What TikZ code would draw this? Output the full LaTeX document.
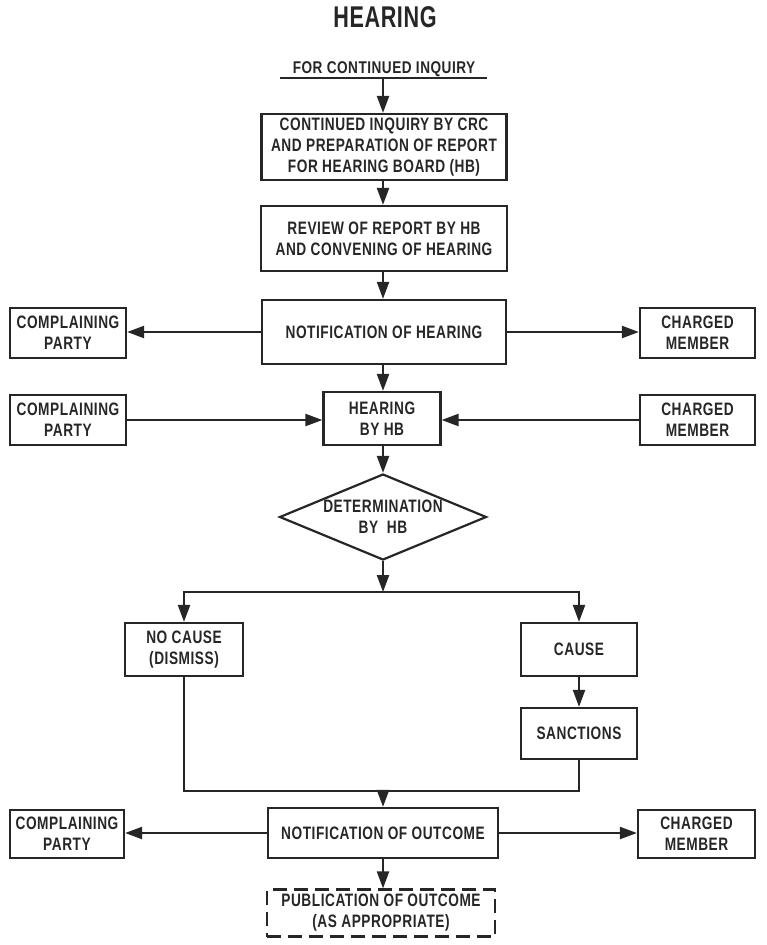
\documentclass[tikz,border=0pt]{standalone}
\usepackage{fontspec}
\setmainfont[FakeStretch=0.76,LetterSpace=3]{Liberation Sans}
\newfontfamily\titlefont[FakeStretch=0.72,LetterSpace=2]{Liberation Sans}
\newfontfamily\fcifont[FakeStretch=0.8,LetterSpace=3]{Liberation Sans}
\usetikzlibrary{arrows.meta,shapes.geometric}
\begin{document}
\begin{tikzpicture}[x=1pt,y=-1pt,
  line width=2.2pt, color={black!85},
  txt/.style={font=\bfseries\fontsize{18}{21}\selectfont},
  box/.style={draw, rectangle, align=center, inner sep=0pt, txt},
  arr/.style={-{Triangle[length=17pt,width=12pt]}},
  dashbox/.style={box, dash pattern=on 14pt off 7pt}
]
\useasboundingbox (0,0) rectangle (766,945);

\node[font=\titlefont\bfseries\fontsize{30}{30}\selectfont] (title) at (385,17) {HEARING};
\node[font=\fcifont\bfseries\fontsize{17}{18}\selectfont] (fci) at (384,69) {FOR CONTINUED INQUIRY};
\coordinate (ul) at (383,78);
\draw (280,78) -- (487,78);

\node[box, minimum width=245pt, minimum height=66pt] (b1) at (384,147)
  {CONTINUED INQUIRY BY CRC\\AND PREPARATION OF REPORT\\FOR HEARING BOARD (HB)};
\node[box, minimum width=246pt, minimum height=65pt] (b2) at (384,238.5)
  {REVIEW OF REPORT BY HB\\AND CONVENING OF HEARING};
\node[box, minimum width=244pt, minimum height=64pt] (b3) at (384,332)
  {NOTIFICATION OF HEARING};
\node[box, minimum width=116pt, minimum height=50pt] (cpA) at (68,333)
  {COMPLAINING\\PARTY};
\node[box, minimum width=115pt, minimum height=50pt] (cmA) at (697.5,333)
  {CHARGED\\MEMBER};

\node[box, minimum width=117pt, minimum height=53pt] (hb) at (382,418.5)
  {HEARING\\BY HB};
\node[box, minimum width=116pt, minimum height=50pt] (cpB) at (68,420)
  {COMPLAINING\\PARTY};
\node[box, minimum width=115pt, minimum height=50pt] (cmB) at (697.5,420)
  {CHARGED\\MEMBER};

\node[draw, diamond, inner sep=0pt, minimum width=207pt, minimum height=86pt] (det) at (383,517) {};
\node[align=center, txt] (detl) at (383,517) {DETERMINATION\\BY\ \ HB};

\coordinate (j1) at (383,592);
\node[box, minimum width=118pt, minimum height=53pt] (nc) at (184,649.5)
  {NO CAUSE\\(DISMISS)};
\node[box, minimum width=116pt, minimum height=53pt] (cause) at (579,649.5)
  {CAUSE};
\node[box, minimum width=116pt, minimum height=51pt] (sanc) at (579,733.5)
  {SANCTIONS};
\coordinate (j2) at (383,791);

\node[box, minimum width=230pt, minimum height=50pt] (no) at (383,833)
  {NOTIFICATION OF OUTCOME};
\node[box, minimum width=114pt, minimum height=48pt] (cpC) at (67,834)
  {COMPLAINING\\PARTY};
\node[box, minimum width=117pt, minimum height=48pt] (cmC) at (696.5,834)
  {CHARGED\\MEMBER};
\node[dashbox, minimum width=228pt, minimum height=47pt] (pub) at (381,913)
  {PUBLICATION OF OUTCOME\\(AS APPROPRIATE)};

% connectors
\draw[arr] (ul) -- (b1.north -| ul);
\draw[arr] (b1.south -| ul) -- (b2.north -| ul);
\draw[arr] (b2.south -| ul) -- (b3.north -| ul);
\draw[arr] (b3.west) -- (cpA.east |- b3.west);
\draw[arr] (b3.east) -- (cmA.west |- b3.east);
\draw[arr] (b3.south -| ul) -- (hb.north -| ul);
\draw[arr] (cpB.east) -- (hb.west |- cpB.east);
\draw[arr] (cmB.west) -- (hb.east |- cmB.west);
\draw[arr] (hb.south -| ul) -- (det.north);
\draw[arr] (det.south) -- (j1);
\draw[arr] (j1) -| (nc.north);
\draw[arr] (j1) -| (cause.north);
\draw[arr] (cause) -- (sanc);
\draw (nc.south) |- (j2);
\draw (sanc.south) |- (j2);
\draw[arr] (j2) -- (no.north -| j2);
\draw[arr] (no.west) -- (cpC.east |- no.west);
\draw[arr] (no.east) -- (cmC.west |- no.east);
\draw[arr] (no.south -| j2) -- (pub.north -| j2);
\end{tikzpicture}
\end{document}
